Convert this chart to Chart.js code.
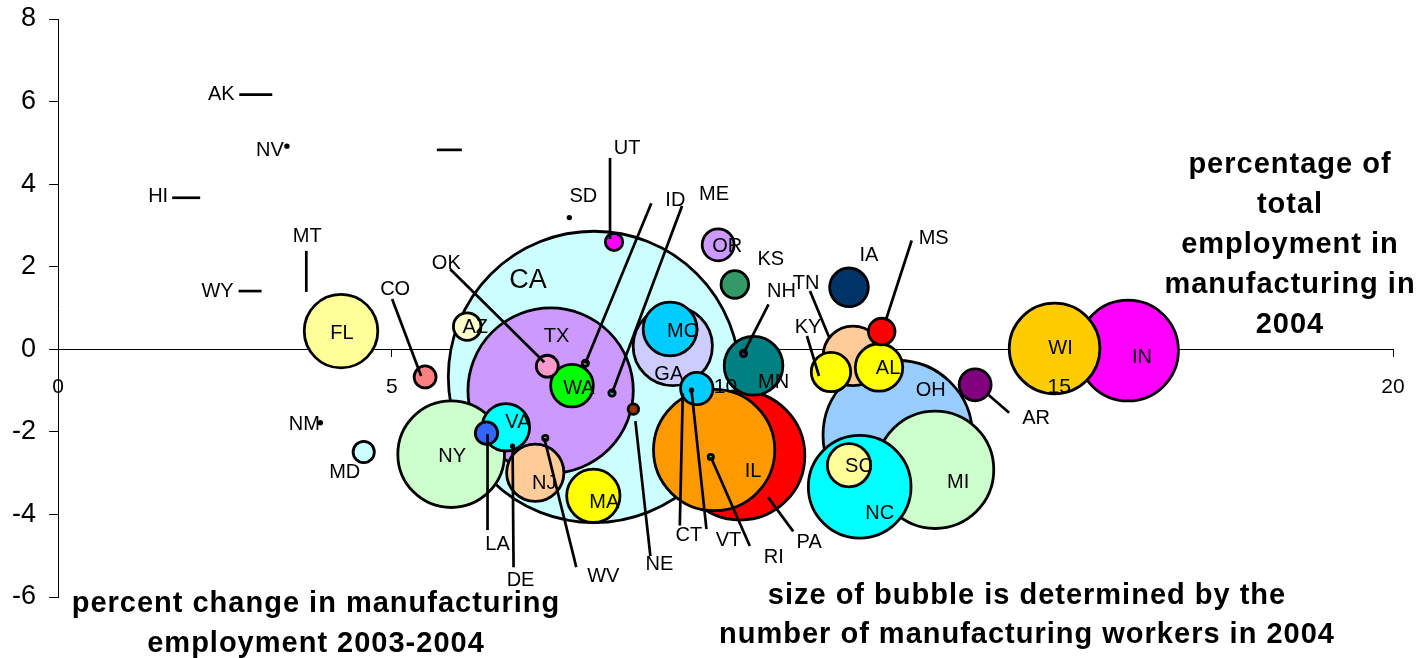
<!DOCTYPE html>
<html>
<head>
<meta charset="utf-8">
<title>Manufacturing employment by state, 2004</title>
<script src="https://cdn.jsdelivr.net/npm/chart.js@4.4.1/dist/chart.umd.min.js"></script>
<style>
  body { margin: 0; background: #fff; }
  #wrap { position: relative; width: 1423px; height: 658px; overflow: hidden; }
  .note { position: absolute; font: bold 29px "Liberation Sans", Arial, sans-serif; letter-spacing: 1px;
          text-align: center; color: #000; white-space: nowrap; }
</style>
</head>
<body>
<div id="wrap">
  <canvas id="bubbleChart" width="1423" height="658"></canvas>
  <div class="note" style="left:1160px; top:143px; width:260px; line-height:40px">percentage of<br>total<br>employment in<br>manufacturing in<br>2004</div>
  <div class="note" style="left:46px; top:582px; width:540px; line-height:40px">percent change in manufacturing<br>employment 2003-2004</div>
  <div class="note" style="left:677px; top:575px; width:700px; line-height:39px">size of bubble is determined by the<br>number of manufacturing workers in 2004</div>
</div>
<script>
// ── DATA ──────────────────────────────────────────────
const states = ['AK','AL','AR','AZ','CA','CO','CT','DE','FL','GA','HI','IA','ID','IL','IN','KS','KY','LA','MA','MD',
                'ME','MI','MN','MO','MS','MT','NC','ND','NE','NH','NJ','NM','NV','NY','OH','OK','OR','PA','RI','SC',
                'SD','TN','TX','UT','VA','VT','WA','WI','WV','WY'];

// percentage of total employment in manufacturing, 2004
const pctManufacturing = [3.21, 12.30, 13.74, 6.13, 8.03, 5.50, 9.57, 6.81, 4.24, 9.21, 2.13, 11.85, 7.90, 9.83, 16.03, 10.14, 11.58, 6.42, 8.02, 4.58,
                          8.30, 13.14, 10.42, 9.17, 12.34, 3.72, 12.01, 6.05, 8.62, 10.27, 7.15, 3.93, 3.43, 5.89, 12.58, 7.33, 9.89, 10.22, 9.78, 11.85,
                          7.66, 11.91, 7.38, 8.33, 6.71, 9.49, 7.70, 14.93, 7.30, 3.05];

// percent change in manufacturing employment 2003-2004
const pctChange = [6.17, -0.44, -0.86, 0.55, -0.67, -0.67, -0.95, -2.35, 0.44, 0.08, 3.67, 1.50, -0.34, -2.44, -0.03, 1.57, -0.55, -2.03, -3.55, -2.49,
                   -1.06, -2.92, -0.40, 0.49, 0.43, 1.39, -3.33, 4.83, -1.45, -0.10, -2.99, -1.78, 4.92, -2.54, -2.08, -0.41, 2.53, -2.57, -2.61, -2.81,
                   3.19, -0.16, -1.00, 2.60, -1.89, -0.99, -0.88, 0.02, -2.15, 1.41];

// bubble size: manufacturing workers 2004 (thousands)
const workers = [0, 44, 21, 16, 1520, 10.6, 21.5, 0.45, 102, 118, 0, 30, 1.4, 270, 188, 16, 31, 11, 55, 10,
                 1.4, 253, 66, 56, 15, 0, 195, 0, 3, 1.4, 63, 0.45, 0.45, 210, 406, 10.6, 21, 306, 1.1, 37,
                 0.45, 68, 496, 7, 44, 0.45, 36, 153, 1.1, 0];

const xTicks = [0, 5, 10, 15, 20];
const yTicks = [-6, -4, -2, 0, 2, 4, 6, 8];

// ── STYLE ─────────────────────────────────────────────
const fills = ['#000000','#FFFF00','#800080','#FFFFCC','#CCFFFF','#FF8080','#00CCFF','#000000','#FFFF99','#CCCCFF',
               '#000000','#003366','#808080','#FF9900','#FF00FF','#339966','#FFFF00','#3366FF','#FFFF00','#CCFFFF',
               '#33CCCC','#CCFFCC','#008080','#00CCFF','#FF0000','#000000','#00FFFF','#000000','#993300','#333399',
               '#FFCC99','#000000','#000000','#CCFFCC','#99CCFF','#FF99CC','#CC99FF','#FF0000','#00FF00','#FFFF99',
               '#000000','#FFCC99','#CC99FF','#FF00FF','#00FFFF','#000000','#00FF00','#FFCC00','#99CC00','#000000'];

// label offset from bubble centre (px) and optional leader line [x1,y1,x2,y2] relative to the centre
const labelSpots = {
  AK: {at: [-51, 0], line: [-33, 0, 0, 0]},
  AL: {at: [9, 1]},
  AR: {at: [61, 34], line: [12, 9, 34, 28]},
  AZ: {at: [8, 1]},
  CA: {at: [-66, -96], big: true},
  CO: {at: [-30, -87], line: [-4, -1, -33, -78]},
  CT: {at: [-8, 147], line: [-14, 5, -17, 137]},
  DE: {at: [8, 134], line: [0, 0, 1, 121]},
  FL: {at: [1, 2]},
  GA: {at: [-4, 29]},
  HI: {at: [-42, -1], line: [-28, 0, 0, 0]},
  IA: {at: [20, -32]},
  ID: {at: [90, -163], line: [0, 0, 66, -160]},
  IL: {at: [39, 21]},
  IN: {at: [14, 7]},
  KS: {at: [36, -25]},
  KY: {at: [-23, -45], line: [-12, 4, -24, -36]},
  LA: {at: [11, 111], line: [1, 1, 1, 97]},
  MA: {at: [11, 7]},
  MD: {at: [-19, 20]},
  ME: {at: [102, -199], line: [0, 0, 70, -187]},
  MI: {at: [23, 13]},
  MN: {at: [20, 17]},
  MO: {at: [13, 2]},
  MS: {at: [52, -93], line: [4, -11, 30, -91]},
  MT: {at: [1, -55], line: [0, -41, 0, 0]},
  NC: {at: [20, 27]},
  ND: {hide: true, line: [-25, 0, 0, 0]},
  NE: {at: [26, 155], line: [2, 12, 17, 147]},
  NH: {at: [38, -62], line: [0, 0, 25, -49]},
  NJ: {at: [9, 11]},
  NM: {at: [-16, 2]},
  NV: {at: [-17, 4]},
  NY: {at: [1, 2]},
  OH: {at: [33, -45]},
  OK: {at: [-101, -103], line: [-3, -4, -97, -97]},
  OR: {at: [9, 2]},
  PA: {at: [69, 87], line: [28, 42, 53, 76]},
  RI: {at: [63, 100], line: [0, 0, 39, 89]},
  SC: {at: [10, 1]},
  SD: {at: [14, -21]},
  TN: {at: [-47, -72], line: [-24, -19, -43, -65]},
  TX: {at: [6, -54]},
  UT: {at: [13, -93], line: [-4, -3, -4, -84]},
  VA: {at: [12, -5]},
  VT: {at: [37, 150], line: [0, 0, 15, 139]},
  WA: {at: [7, 3]},
  WI: {at: [6, 0]},
  WV: {at: [58, 138], line: [-1, 0, 31, 129]},
  WY: {at: [-44, 0], line: [-23, 0, 0, 0]}
};

const FONT = '"Liberation Sans", Arial, sans-serif';
Chart.defaults.font.family = FONT;
Chart.defaults.color = '#000';

const bubbleRadius = w => (w > 0 ? Math.max(Math.sqrt(w) * 3.77 - 1.3, 1.3) : 0);

// big bubbles first so the small ones sit on top (as in the original)
const order = states.map((_, i) => i).sort((a, b) => workers[b] - workers[a]);

// ── LABELS + LEADER LINES ─────────────────────────────
const stateLabels = {
  id: 'stateLabels',
  afterDatasetsDraw(chart) {
    const ctx = chart.ctx;
    const ds = chart.data.datasets[0];
    const pts = chart.getDatasetMeta(0).data;
    ctx.save();
    ctx.strokeStyle = '#000';
    ctx.lineWidth = 2.7;
    pts.forEach((pt, i) => {
      const spot = labelSpots[states[ds.data[i].st]];
      if (!spot.line) return;
      const l = spot.line;
      ctx.beginPath();
      ctx.moveTo(pt.x + l[0], pt.y + l[1]);
      ctx.lineTo(pt.x + l[2], pt.y + l[3]);
      ctx.stroke();
    });
    ctx.fillStyle = '#000';
    ctx.textAlign = 'center';
    ctx.textBaseline = 'middle';
    pts.forEach((pt, i) => {
      const name = states[ds.data[i].st];
      const spot = labelSpots[name];
      if (spot.hide) return;
      ctx.font = (spot.big ? '27px ' : '20px ') + FONT;
      ctx.fillText(name, pt.x + spot.at[0], pt.y + spot.at[1]);
    });
    ctx.restore();
  }
};

new Chart(document.getElementById('bubbleChart'), {
  type: 'bubble',
  data: {
    datasets: [{
      data: order.map(i => ({x: pctManufacturing[i], y: pctChange[i], r: bubbleRadius(workers[i]), st: i})),
      backgroundColor: order.map(i => fills[i]),
      borderColor: '#000',
      borderWidth: 2.8,
      clip: false
    }]
  },
  options: {
    responsive: false,
    animation: false,
    events: [],
    layout: {autoPadding: false, padding: {left: 0, top: 19, right: 30, bottom: 61}},
    plugins: {legend: {display: false}, tooltip: {enabled: false}},
    scales: {
      x: {
        type: 'linear', position: {y: 0},
        min: xTicks[0], max: xTicks[xTicks.length - 1],
        ticks: {stepSize: xTicks[1] - xTicks[0], z: 1, padding: 18, font: {size: 21}, color: '#000', maxRotation: 0},
        grid: {drawOnChartArea: false, tickLength: 7, color: '#000'},
        border: {color: '#000', width: 1},
        afterFit: s => { s.height = 0; s.paddingLeft = 0; s.paddingRight = 0; }
      },
      y: {
        type: 'linear', position: 'left',
        min: yTicks[0], max: yTicks[yTicks.length - 1],
        ticks: {stepSize: yTicks[1] - yTicks[0], padding: 13, font: {size: 27}, color: '#000'},
        grid: {drawOnChartArea: false, tickLength: 9, color: '#000'},
        border: {color: '#000', width: 1},
        afterFit: s => { s.width = 58; s.paddingTop = 0; s.paddingBottom = 0; }
      }
    }
  },
  plugins: [stateLabels]
});
</script>
</body>
</html>
